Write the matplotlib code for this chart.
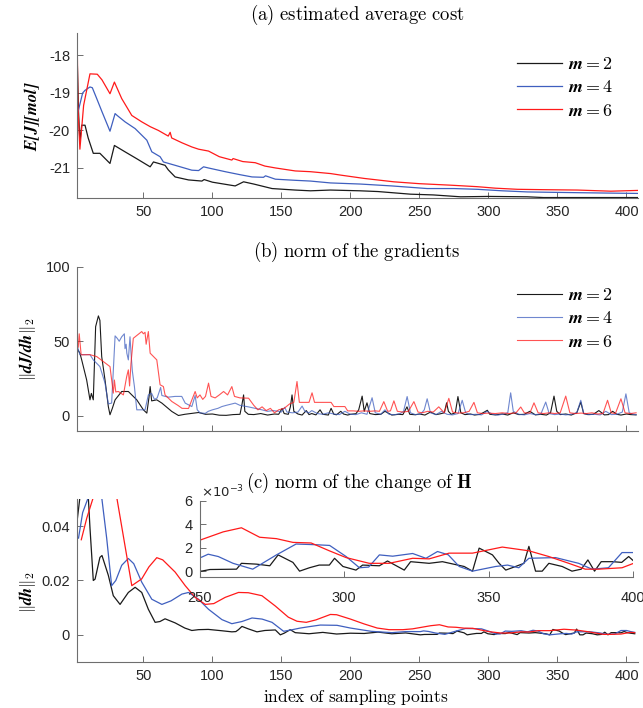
import matplotlib
matplotlib.use('Agg')
import matplotlib.pyplot as plt
from matplotlib.lines import Line2D
from matplotlib.ticker import FuncFormatter

plt.rcParams['mathtext.fontset'] = 'cm'
plt.rcParams['font.family'] = ['Liberation Sans', 'DejaVu Sans']
plt.rcParams['axes.unicode_minus'] = False

# ---------------- data ----------------
labels = [r'$\mathbfit{m} = \mathbf{2}$', r'$\mathbfit{m} = \mathbf{4}$', r'$\mathbfit{m} = \mathbf{6}$']
xticks_main = [50, 100, 150, 200, 250, 300, 350, 400]

# (a) estimated average cost, (index, value)
cost_m2 = [(2, -18.0), (3, -19.5), (4, -20.3), (5.3, -19.86), (7.7, -19.86), (10, -20.2), (13.7, -20.61),
           (18.5, -20.61), (25.8, -20.88), (29, -20.4), (36.7, -20.57), (45, -20.75), (54.9, -20.97),
           (57.3, -20.84), (65.7, -20.93), (68, -21.05), (73, -21.24), (82.7, -21.32), (92.4, -21.35),
           (94, -21.31), (100, -21.38), (116.5, -21.48), (122.6, -21.37), (130, -21.43), (143.2, -21.55),
           (160, -21.59), (171, -21.61), (185.5, -21.59), (207, -21.61), (220, -21.63), (243.5, -21.70),
           (260, -21.72), (279.8, -21.77), (300, -21.76), (328, -21.77), (340, -21.79), (360, -21.79),
           (380, -21.79), (408, -21.79)]
cost_m4 = [(2, -19.6), (4, -19.3), (6, -19.0), (7.7, -18.93), (11.3, -18.84), (13, -18.86), (16.2, -19.15),
           (20, -19.5), (25.8, -20.02), (29.5, -19.55), (31, -19.6), (36.7, -19.77), (44, -19.95),
           (52.5, -20.26), (56.1, -20.57), (62.1, -20.7), (64.5, -20.84), (73, -20.93), (85.1, -21.06),
           (90, -21.07), (93.6, -20.97), (97, -21.0), (109.3, -21.1), (120, -21.18), (128.7, -21.24),
           (137, -21.25), (138.5, -21.21), (145.6, -21.3), (160, -21.33), (171, -21.35), (185.5, -21.4),
           (207.3, -21.43), (230, -21.48), (255.6, -21.55), (275, -21.55), (291.9, -21.57), (310, -21.61),
           (328.2, -21.64), (345, -21.65), (364.5, -21.66), (385, -21.67), (408, -21.68)]
cost_m6 = [(2, -17.45), (2.6, -19.4), (4, -20.5), (6.7, -19.33), (11.3, -18.49), (16.6, -18.5), (20, -18.65),
           (25.8, -19.02), (29, -18.71), (34.3, -19.15), (41.6, -19.6), (48.8, -19.77), (55, -19.9),
           (60.9, -20.0), (68, -20.15), (69.4, -20.05), (70.5, -20.2), (78, -20.33), (85.1, -20.44),
           (90, -20.5), (97.2, -20.55), (105, -20.7), (114.1, -20.79), (115, -20.75), (122, -20.83),
           (131, -20.86), (138, -20.95), (145.6, -21.0), (160, -21.08), (171, -21.1), (185.6, -21.15),
           (192.7, -21.19), (210, -21.28), (231.4, -21.37), (250, -21.42), (272.6, -21.46), (291.9, -21.5),
           (305, -21.54), (321, -21.57), (340, -21.58), (364.5, -21.59), (388.7, -21.62), (408, -21.6)]

# (b) norm of the gradients
grad_m2 = [(2, 45), (4, 42), (5.3, 37.5), (8.9, 24), (11.3, 10.7), (12.3, 15), (13.7, 10.7), (15.4, 59.8),
           (17.4, 67), (18.5, 64), (19.8, 39.7), (22.2, 24), (24.6, 6.2), (25.8, 0.7), (27.5, 5), (29.5, 10.7),
           (34.3, 16.3), (39.1, 16.3), (45.2, 10.7), (50, 4), (52.5, 1.8), (54, 12), (54.9, 19.6), (56, 10),
           (59.7, 10.7), (63.4, 8.5), (70.6, 2.9), (75.4, 0.2), (80, 1.0), (85.1, 1.6), (90, 2.2), (95, 1.0),
           (100, 1.2), (105, 0.4), (110, 0.3), (115, 0.8), (120, 1.0), (121.5, 8), (122.6, 14), (123.5, 3),
           (126, 1.0), (130, 0.8), (135, 1.5), (140, 0.5), (145, 1.2), (148, 1.0), (150.5, 4.9), (152, 1.5),
           (155, 1.0), (156.5, 6), (157.7, 14), (159, 3), (162, 1.2), (165, 0.5), (168, 3.5), (170, 0.8),
           (172, 1.5), (175, 0.6), (178, 4), (180, 1.0), (184, 0.5), (186, 5), (188, 1.0), (190, 0.7),
           (193, 3), (195, 1.2), (198, 0.5), (200, 1.0), (204, 1.4), (206, 4), (208.5, 13.2), (210, 3),
           (212, 8.7), (214, 1.5), (218, 0.8), (222, 1.0), (225, 3), (230, 0.5), (235, 1.0), (238, 0.8),
           (241, 6), (243, 1.0), (247, 0.7), (250, 1.2), (254, 0.5), (258, 2.5), (262, 0.8), (265, 1.3),
           (268, 2), (269.7, 8.7), (271, 3), (273, 1.0), (276, 2), (277.9, 12.9), (280, 2), (283, 0.8),
           (287, 1.2), (290, 0.5), (294, 1.0), (297, 2.5), (299.2, 3.7), (301, 1.0), (305, 0.6), (310, 1.2),
           (314, 0.5), (318, 2), (322, 0.8), (326, 1.0), (330, 3), (334, 0.6), (338, 1.0), (342, 0.5),
           (345, 2), (347.5, 13.2), (349.5, 3), (352, 0.8), (356, 1.2), (360, 0.5), (364, 2), (366.9, 9.2),
           (369, 1.5), (372, 0.8), (376, 1.0), (380, 3.5), (384, 0.6), (387, 0.8), (390, 3), (393, 1.0),
           (396, 0.5), (400, 1.2), (403, 0.8), (407, 0.6)]
grad_m4 = [(2, 47), (4, 41), (11.3, 41), (13.7, 37.5), (18.5, 33), (22.2, 21.9), (24.6, 8), (27, 8.5),
           (28.2, 30.8), (29.5, 53.6), (31, 52), (32.5, 50), (34.3, 53), (36.2, 55), (36.7, 45), (37.5, 48),
           (38, 42), (39.1, 37.5), (40.3, 53), (41.2, 40), (42, 30), (43.5, 19.6), (45.2, 4), (51.2, 4),
           (53.6, 14), (56, 15), (58, 11), (60, 12), (62.5, 19), (63.4, 13.6), (68, 12.5), (73, 13),
           (77.8, 13), (80.3, 8.5), (85.1, 6.2), (87.5, 13.6), (89, 4), (91, 2), (94.8, 1.6), (97, 3),
           (100, 4), (104, 5), (106.9, 6.2), (110, 7), (116.5, 8.5), (120, 7), (126, 6), (131, 5),
           (135.9, 4), (140, 3), (144, 3.5), (148, 3), (150, 2.5), (152.4, 5.7), (154, 2.5), (158, 2),
           (162, 2.5), (165, 6.5), (167, 3), (170, 2), (172, 3.5), (176, 1.5), (180, 1.0), (184, 2),
           (188, 1.2), (192, 0.8), (196, 3), (200, 1.0), (204, 0.8), (208, 2), (212, 1.0), (215.7, 12.1),
           (218, 2), (222, 1.0), (225, 4), (228, 1.0), (232, 0.7), (236, 1.5), (238.5, 3), (241.1, 12.9),
           (243.5, 2), (247, 0.8), (251, 1.2), (253.5, 4), (255.6, 11.4), (258, 2), (262, 0.8), (266, 3),
           (270, 1.0), (274, 0.6), (278, 1.5), (281, 10.4), (283.5, 2), (287, 0.8), (291, 1.0), (295, 0.6),
           (299, 3), (303, 1.0), (307, 0.5), (311, 1.2), (314, 2), (316.1, 15.4), (318, 3), (322, 1.0),
           (326, 0.6), (330, 1.5), (334, 0.8), (338, 1.2), (341.5, 9.2), (344, 1.5), (348, 0.8), (352, 1.2),
           (356, 0.6), (360, 1.0), (364, 2), (366.9, 10.4), (369, 1.5), (373, 0.8), (377, 1.0), (381, 0.6),
           (385, 3), (389, 0.8), (393, 1.0), (397, 2.5), (399.6, 14.7), (402, 2), (405, 1.0), (407, 0.8)]
grad_m6 = [(2, 50), (2.8, 46), (3.5, 55), (4.9, 40.9), (11.3, 41), (16.2, 39.7), (25.8, 33), (28.2, 15.2),
           (29, 24), (30, 16), (31.9, 16.3), (35.5, 14), (37.9, 26.3), (39.1, 30.8), (40, 20), (41, 35),
           (42.7, 52), (48.8, 56.5), (50, 55), (51.2, 56), (52, 48), (53.6, 56.5), (54.9, 42), (57, 40),
           (59.7, 37.5), (62.1, 20.8), (64.5, 19.6), (65.7, 14), (70.6, 9.6), (75, 7), (78, 5), (82.7, 4.9),
           (85.1, 10.7), (87.5, 16.3), (89, 12), (91, 14), (93, 11), (95, 13), (97.2, 21.9), (99, 13),
           (102, 12), (105, 14), (108.1, 16.3), (111, 14), (114.1, 19.6), (116, 13), (120, 12),
           (126.2, 11.8), (130, 7), (133, 4), (136, 6), (139, 3.5), (142, 5), (145, 2), (148, 4), (152, 5),
           (156, 8), (159, 9), (161.3, 23), (163, 9), (166, 9), (170, 9), (172.2, 15.4), (174, 9), (178, 9),
           (182, 9), (186, 9), (188, 6.2), (192, 6.2), (196, 6.2), (198, 3.3), (202, 3.3), (206, 3.0),
           (210, 3.3), (214, 3), (218, 3.3), (221, 3), (224.2, 9.5), (227, 3), (229, 3.3), (231.5, 10),
           (234, 3), (238, 2.5), (242, 3), (246, 9.5), (249, 2.5), (252, 2), (256, 3), (260, 2.5), (264, 6),
           (268, 2), (271.3, 11.7), (274, 2.5), (278, 1.8), (282, 2), (286, 3), (289.5, 9), (292, 2),
           (296, 1.5), (300, 1.8), (305, 1.5), (310, 2), (315, 1.5), (320, 2), (323.4, 5.9), (326, 2),
           (330, 1.8), (333, 8.7), (336, 2), (340, 1.5), (344, 2), (348, 1.5), (352, 2), (356, 13.2),
           (359, 2), (363, 1.5), (367, 1.8), (371, 1.5), (375, 2), (379, 1.2), (383, 1.5), (386.3, 10.4),
           (389, 2), (392, 1.5), (396, 11.4), (399, 2), (403, 1.5), (407, 2)]

# (c) norm of the change of H
dh_m2 = [(2, 0.042), (4, 0.0506), (5, 0.056), (7, 0.058), (10.1, 0.0506), (11.3, 0.0394), (13.7, 0.020),
         (15, 0.0205), (18.5, 0.0285), (20, 0.0292), (24.6, 0.0219), (28.2, 0.0144), (33.1, 0.0112),
         (39.1, 0.0156), (44, 0.0175), (48.8, 0.0156), (53.6, 0.0094), (58.5, 0.0046), (62, 0.0049),
         (65.7, 0.0059), (73, 0.0044), (80, 0.0025), (85.1, 0.0016), (89.9, 0.0019), (97, 0.0020),
         (106.9, 0.0015), (114.1, 0.0011), (117, 0.0012), (118.9, 0.0019), (121.4, 0.0031), (126, 0.0022),
         (132.3, 0.0011), (138, 0.0016), (145.6, 0.0018), (149.2, 0.0), (152, 0.0006), (156.4, 0.0019),
         (160, 0.0008), (170, 0.0004), (180, 0.0009), (190, 0.0003), (200, 0.0006), (210, 0.0005),
         (220, 0.0010), (230, 0.0004), (240, 0.0007), (250.7, 0.0), (253.6, 0.00014), (262.8, 0.00017),
         (264.5, 0.00067), (269.7, 0.0006), (274.3, 0.00046), (277.2, 0.00139), (282.3, 0.00075),
         (284.6, 0.0), (288, 0.00029), (291.4, 0.00052), (294.9, 0.00052), (296.7, 0.0011), (299.6, 0.0004),
         (304.1, 0.00009), (306.4, 0.00052), (312.2, 0.00046), (315, 0.00087), (320.8, 0.00009),
         (323, 0.00081), (329.4, 0.00067), (334, 0.00081), (341.5, 0.0004), (344.4, 0.0), (346.7, 0.00197),
         (349, 0.00168), (351.3, 0.00139), (353.6, 0.00067), (355.9, 0.00009), (359.3, 0.0004),
         (362.2, 0.00067), (363.9, 0.00212), (366.2, 0.0), (368.5, 0.0), (370.8, 0.00067), (375.4, 0.0004),
         (378.8, 0.0), (382, 0.00017), (384.3, 0.00096), (386.6, 0.0), (388.9, 0.00081), (392.9, 0.00081),
         (396, 0.00075), (398.4, 0.00125), (400.1, 0.00087), (403, 0.0006), (406, 0.0004)]
dh_m4 = [(3, 0.0356), (6, 0.045), (10.1, 0.0506), (14, 0.056), (19.8, 0.0506), (23.4, 0.0356), (27, 0.0181),
         (30, 0.0200), (34.3, 0.0256), (39.1, 0.0281), (43, 0.0262), (48.8, 0.0194), (56.1, 0.0131),
         (63.4, 0.0112), (70, 0.0125), (77.9, 0.0150), (82.7, 0.0156), (89.9, 0.0131), (97.2, 0.0094),
         (106.9, 0.0056), (114.1, 0.0041), (121.4, 0.0049), (128.7, 0.0062), (136, 0.0058), (143.2, 0.0046),
         (151.6, 0.0013), (157, 0.0018), (163.7, 0.0025), (170, 0.0030), (178.2, 0.0036), (190.3, 0.0035),
         (200, 0.0025), (215, 0.0013), (230, 0.0008), (240, 0.0012), (250.7, 0.00119), (253, 0.00145),
         (256.5, 0.00125), (261.6, 0.00067), (268.4, 0.00017), (276.6, 0.00139), (283.4, 0.00232),
         (290.3, 0.00226), (295, 0.0022), (300.7, 0.00125), (305.3, 0.00029), (308.5, 0.00035),
         (312.2, 0.00139), (316.8, 0.00128), (323.7, 0.00151), (328.3, 0.0011), (332.3, 0.00168),
         (336, 0.0014), (339.8, 0.0004), (344.4, 0.0), (352.4, 0.0004), (356.5, 0.00052), (360.4, 0.00029),
         (363.9, 0.0011), (373.1, 0.00116), (381.1, 0.00067), (385.7, 0.00017), (391.4, 0.00029),
         (396.1, 0.00159), (400.1, 0.00159), (403, 0.0012), (406, 0.0009)]
dh_m6 = [(5, 0.035), (9, 0.043), (13.7, 0.0506), (22, 0.075), (30.7, 0.0506), (41.6, 0.0181), (48.8, 0.0206),
         (54, 0.0250), (59.7, 0.0284), (64, 0.0276), (73, 0.0231), (80.3, 0.0181), (87.5, 0.0138),
         (94.8, 0.0112), (101, 0.0115), (109.3, 0.0138), (118.9, 0.0156), (126, 0.0155), (135.9, 0.0144),
         (145.6, 0.0106), (155, 0.0065), (161.3, 0.0050), (168, 0.0046), (175, 0.0055), (185.5, 0.0075),
         (190, 0.0074), (200, 0.0058), (210, 0.0040), (219.4, 0.0025), (228, 0.0019), (238, 0.0019),
         (245, 0.0022), (250.7, 0.0027), (258.2, 0.00336), (264.5, 0.00371), (270.8, 0.0029),
         (276.6, 0.00278), (282.3, 0.00246), (288.6, 0.00241), (294.9, 0.00174), (300.7, 0.00116),
         (308.7, 0.00067), (315.6, 0.00067), (323.7, 0.0011), (329.4, 0.00105), (336.3, 0.00154),
         (344.4, 0.00154), (354.7, 0.00206), (363.9, 0.00174), (370.8, 0.00125), (377.7, 0.00067),
         (383.4, 0.00017), (388, 0.00017), (396.1, 0.00029), (400.1, 0.00067), (403, 0.0009), (406, 0.0008)]

colors = ['#1a1a1a', '#3f5fbf', '#ff1a1a']

# ---------------- figure ----------------
W, H = 643, 708
fig = plt.figure(figsize=(W / 100, H / 100), dpi=100)


def rect(l, t, r, b):
    return [l / W, 1 - b / H, (r - l) / W, (b - t) / H]


SP = '#6e6e6e'
TXT = '#262626'


def style(ax, xticks, yticks, xlim, ylim, fs=10.5):
    ax.set_xlim(*xlim)
    ax.set_ylim(*ylim)
    ax.set_xticks(xticks)
    ax.set_yticks(yticks)
    for s in ['top', 'right']:
        ax.spines[s].set_visible(False)
    for s in ['left', 'bottom']:
        ax.spines[s].set_color(SP)
        ax.spines[s].set_linewidth(0.8)
    ax.tick_params(direction='in', length=4, width=0.7, color=SP, labelcolor=TXT, labelsize=fs)
    ax.tick_params(axis='x', pad=5)
    ax.tick_params(axis='y', pad=5)


def xy(pairs):
    return [p[0] for p in pairs], [p[1] for p in pairs]


xlim_main = (1.9, 408)
leg_kw = dict(loc='upper left', bbox_transform=fig.transFigure, frameon=False, fontsize=13,
              handlelength=2.5, handletextpad=0.3, labelspacing=0.35, borderpad=0, borderaxespad=0)

# (a)
axa = fig.add_axes(rect(77, 33, 637.5, 198.3))
for data, c in zip([cost_m2, cost_m4, cost_m6], colors):
    axa.plot(*xy(data), color=c, lw=0.9)
style(axa, xticks_main, [-21, -20, -19, -18], xlim_main, (-21.81, -17.4))
axa.legend([Line2D([], [], color=c, lw=0.9) for c in colors], labels,
           bbox_to_anchor=(517 / W, 1 - 56 / H), **leg_kw)

# (b)
axb = fig.add_axes(rect(77, 266.7, 637.5, 430.7))
for data, c, a in zip([grad_m2, grad_m4, grad_m6], colors, [1.0, 0.75, 0.75]):
    axb.plot(*xy(data), color=c, lw=0.8, alpha=a)
style(axb, xticks_main, [0, 50, 100], xlim_main, (-10, 100))
axb.set_xticklabels([])
axb.legend([Line2D([], [], color=c, lw=0.8, alpha=a) for c, a in zip(colors, [1.0, 0.75, 0.75])], labels,
           bbox_to_anchor=(517 / W, 1 - 287 / H), **leg_kw)

# (c)
axc = fig.add_axes(rect(77, 499, 637.5, 662))
for data, c in zip([dh_m2, dh_m4, dh_m6], colors):
    axc.plot(*xy(data), color=c, lw=0.9)
style(axc, xticks_main, [0, 0.02, 0.04], xlim_main, (-0.01, 0.05))
axc.yaxis.set_major_formatter(FuncFormatter(lambda v, p: '0' if abs(v) < 1e-12 else f'{v:g}'))

# inset
axi = fig.add_axes(rect(199.5, 501, 633.3, 577))
axi.patch.set_alpha(0)
for data, c in zip([dh_m2, dh_m4, dh_m6], colors):
    axi.plot(*xy(data), color=c, lw=0.9)
style(axi, [250, 300, 350, 400], [0, 0.002, 0.004, 0.006], (250, 400), (-0.0005, 0.006))
axi.yaxis.set_major_formatter(FuncFormatter(lambda v, p: f'{v * 1e3:.0f}'))
axi.tick_params(axis='x', pad=10)
fig.text(201 / W, 1 - 492 / H, r'$\times10^{-3}$', math_fontfamily='dejavusans', fontsize=9.5,
         color=TXT, ha='left', va='center')

# titles & labels
tfs = 13.5
fig.text(357 / W, 1 - 15 / H, r'$\mathrm{(a)\ estimated\ average\ cost}$', ha='center', va='center', fontsize=tfs)
fig.text(357 / W, 1 - 252 / H, r'$\mathrm{(b)\ norm\ of\ the\ gradients}$', ha='center', va='center', fontsize=tfs)
fig.text(359 / W, 1 - 483 / H, r'$\mathrm{(c)\ norm\ of\ the\ change\ of\ }\mathbf{H}$', ha='center',
         va='center', fontsize=tfs)
fig.text(356 / W, 1 - 697 / H, r'$\mathrm{index\ of\ sampling\ points}$', ha='center', va='center', fontsize=12.5)
fig.text(32 / W, 1 - 116 / H, r'$\mathbfit{E[J][mol]}$', rotation=90, ha='center', va='center', fontsize=12)
fig.text(28 / W, 1 - 349 / H, r'$\|\mathbfit{dJ/dh}\|_2$', rotation=90, ha='center', va='center', fontsize=12)
fig.text(27 / W, 1 - 592 / H, r'$\|\mathbfit{dh}\|_2$', rotation=90, ha='center', va='center', fontsize=12)

fig.savefig('out.png', dpi=100)
